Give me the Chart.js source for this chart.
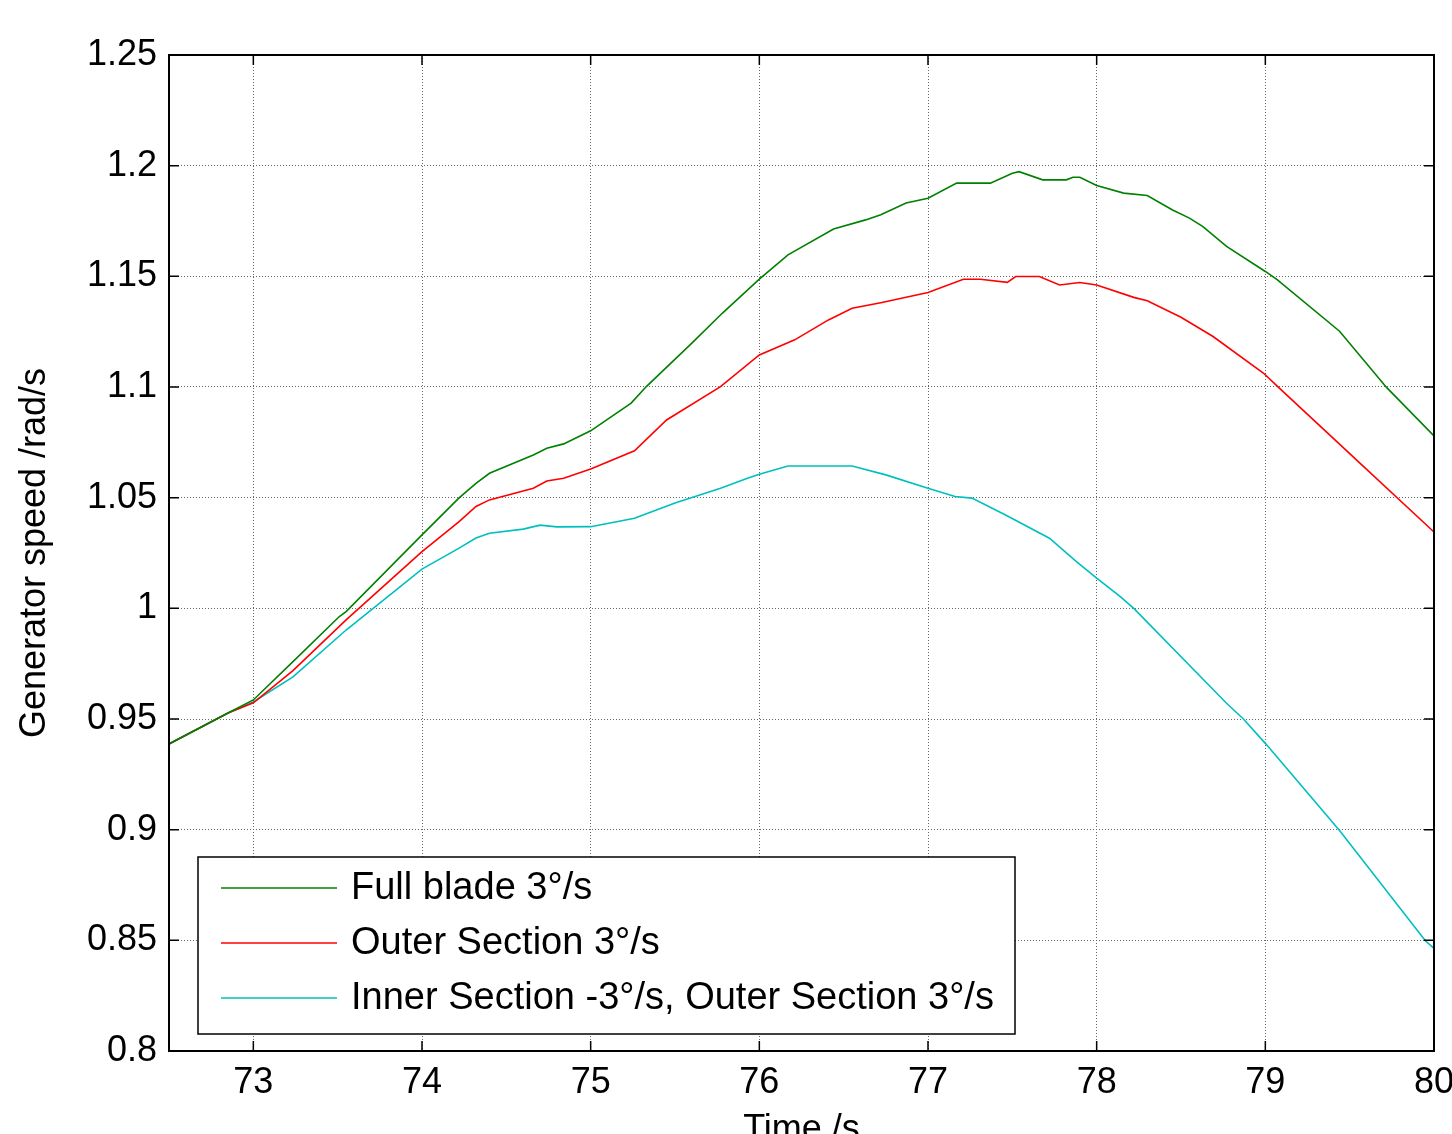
<!DOCTYPE html>
<html>
<head>
<meta charset="utf-8">
<script src="https://cdn.jsdelivr.net/npm/chart.js@4.4.1/dist/chart.umd.min.js"></script>
<style>
  html, body { margin: 0; padding: 0; background: #fff; }
  #wrap { width: 1452px; height: 1134px; }
</style>
</head>
<body>
<div id="wrap"><canvas id="speed-chart" width="1452" height="1134"></canvas></div>
<script>
// --- Data ---
const xTicks = [73, 74, 75, 76, 77, 78, 79, 80];
const yTicks = [0.8, 0.85, 0.9, 0.95, 1.0, 1.05, 1.1, 1.15, 1.2, 1.25];
const yTickLabels = ['0.8', '0.85', '0.9', '0.95', '1', '1.05', '1.1', '1.15', '1.2', '1.25'];

const seriesNames = ['Full blade 3°/s', 'Outer Section 3°/s', 'Inner Section -3°/s, Outer Section 3°/s'];
const seriesColors = ['#008000', '#ff0000', '#00bfbf'];

const fullTime = [72.5, 72.85, 73.0, 73.235, 73.51, 73.55, 74.0, 74.22, 74.32, 74.4, 74.66, 74.74, 74.84, 75.0,
  75.24, 75.33, 75.6, 75.78, 76.0, 76.17, 76.44, 76.63, 76.72, 76.87, 77.0, 77.17, 77.37, 77.5, 77.54, 77.68,
  77.82, 77.86, 77.9, 78.0, 78.16, 78.3, 78.45, 78.55, 78.63, 78.77, 79.0, 79.07, 79.44, 79.72, 80.0];
const fullSpeed = [0.9387, 0.9527, 0.9586, 0.9759, 0.9963, 0.9985, 1.0332, 1.0499, 1.0565, 1.061, 1.0693, 1.0723, 1.0743, 1.0802,
  1.0927, 1.1002, 1.1198, 1.1333, 1.1487, 1.1597, 1.1714, 1.1755, 1.1778, 1.1831, 1.1853, 1.1921, 1.1921, 1.1966, 1.1973, 1.1936,
  1.1936, 1.1948, 1.1948, 1.1910, 1.1876, 1.1865, 1.1800, 1.1763, 1.1725, 1.1635, 1.1522, 1.1485, 1.1252, 1.0997, 1.0779];

const outerTime = [72.5, 72.85, 73.0, 73.235, 73.55, 74.0, 74.22, 74.32, 74.4, 74.66, 74.74, 74.84, 75.0, 75.26,
  75.45, 75.77, 76.0, 76.21, 76.41, 76.55, 76.72, 77.0, 77.21, 77.31, 77.47, 77.52, 77.66, 77.78, 77.9, 78.0,
  78.22, 78.3, 78.5, 78.69, 78.99, 79.08, 79.54, 80.0];
const outerSpeed = [0.9387, 0.9527, 0.9573, 0.9719, 0.9948, 1.0256, 1.0392, 1.046, 1.049, 1.0543, 1.0575, 1.0588, 1.0630, 1.0712,
  1.0851, 1.1002, 1.1145, 1.1213, 1.1303, 1.1356, 1.1381, 1.1427, 1.1487, 1.1487, 1.1473, 1.1499, 1.1499, 1.1461, 1.1472, 1.1461,
  1.1405, 1.1390, 1.1315, 1.1228, 1.1062, 1.0997, 1.0671, 1.0345];

const innerTime = [72.5, 72.85, 73.0, 73.235, 73.55, 74.0, 74.22, 74.32, 74.4, 74.6, 74.7, 74.8, 75.0, 75.26,
  75.5, 75.77, 75.93, 76.0, 76.17, 76.55, 76.75, 77.0, 77.16, 77.26, 77.46, 77.72, 77.88, 78.0, 78.14, 78.22,
  78.77, 78.87, 79.0, 79.44, 79.95, 80.0];
const innerSpeed = [0.9387, 0.9527, 0.9577, 0.969, 0.9902, 1.0177, 1.0272, 1.0318, 1.0339, 1.0358, 1.0376, 1.0368, 1.0369, 1.0407,
  1.0476, 1.0543, 1.0588, 1.0606, 1.0643, 1.0643, 1.0603, 1.0543, 1.0505, 1.0498, 1.0422, 1.0317, 1.0211, 1.0136, 1.0053, 1.0,
  0.9571, 0.95, 0.939, 0.8996, 0.8497, 0.8464];

const FONT = "'Liberation Sans', Arial, Helvetica, sans-serif";

function toPoints(xs, ys) {
  return xs.map((x, i) => ({ x: x, y: ys[i] }));
}

// --- Plugin: MATLAB-style box, inward ticks and legend ---
const matlabFrame = {
  id: 'matlabFrame',
  afterDatasetsDraw(chart) {
    const ctx = chart.ctx;
    const area = chart.chartArea;
    const xs = chart.scales.x;
    const ys = chart.scales.y;
    const tickLen = 10;

    ctx.save();
    ctx.strokeStyle = '#000';
    ctx.lineWidth = 1.5;
    ctx.beginPath();
    xTicks.forEach(t => {
      const px = xs.getPixelForValue(t);
      ctx.moveTo(px, area.bottom); ctx.lineTo(px, area.bottom - tickLen);
      ctx.moveTo(px, area.top); ctx.lineTo(px, area.top + tickLen);
    });
    yTicks.forEach(t => {
      const py = ys.getPixelForValue(t);
      ctx.moveTo(area.left, py); ctx.lineTo(area.left + tickLen, py);
      ctx.moveTo(area.right, py); ctx.lineTo(area.right - tickLen, py);
    });
    ctx.stroke();

    // axes box
    ctx.lineWidth = 2;
    ctx.strokeRect(area.left, area.top, area.right - area.left, area.bottom - area.top);

    // legend
    const boxLeft = area.left + 29;
    const boxBottom = area.bottom - 17;
    const boxW = 817;
    const boxH = 177;
    const boxTop = boxBottom - boxH;
    ctx.fillStyle = '#fff';
    ctx.fillRect(boxLeft, boxTop, boxW, boxH);
    ctx.lineWidth = 1.5;
    ctx.strokeRect(boxLeft, boxTop, boxW, boxH);

    ctx.font = '38px ' + FONT;
    ctx.textBaseline = 'middle';
    ctx.textAlign = 'left';
    seriesNames.forEach((name, i) => {
      const rowY = boxTop + 31 + i * 55;
      ctx.strokeStyle = seriesColors[i];
      ctx.lineWidth = 1.5;
      ctx.beginPath();
      ctx.moveTo(boxLeft + 23, rowY);
      ctx.lineTo(boxLeft + 139, rowY);
      ctx.stroke();
      ctx.fillStyle = '#000';
      ctx.fillText(name, boxLeft + 153, rowY + 1);
    });
    ctx.restore();
  }
};

const ctx = document.getElementById('speed-chart').getContext('2d');
new Chart(ctx, {
  type: 'line',
  data: {
    datasets: [
      { label: seriesNames[0], data: toPoints(fullTime, fullSpeed), borderColor: seriesColors[0] },
      { label: seriesNames[1], data: toPoints(outerTime, outerSpeed), borderColor: seriesColors[1] },
      { label: seriesNames[2], data: toPoints(innerTime, innerSpeed), borderColor: seriesColors[2] }
    ]
  },
  options: {
    responsive: false,
    animation: false,
    layout: { padding: { top: 55, right: 18, left: 0, bottom: 0 } },
    elements: {
      line: { borderWidth: 1.6, tension: 0, fill: false },
      point: { radius: 0 }
    },
    plugins: {
      legend: { display: false },
      tooltip: { enabled: false }
    },
    scales: {
      x: {
        type: 'linear',
        min: 72.5,
        max: 80,
        afterBuildTicks: (scale) => { scale.ticks = xTicks.map(v => ({ value: v })); },
        afterFit: (scale) => { scale.height = 83; scale.paddingLeft = 0; scale.paddingRight = 0; },
        ticks: {
          color: '#000',
          font: { family: FONT, size: 36 },
          padding: 10,
          maxRotation: 0,
          autoSkip: false,
          callback: (v) => String(v)
        },
        grid: { color: '#666', lineWidth: 1, drawTicks: false },
        border: { display: false, dash: [1, 2] },
        title: {
          display: true,
          text: 'Time /s',
          color: '#000',
          font: { family: FONT, size: 36 },
          padding: { top: 0, bottom: -18 }
        }
      },
      y: {
        type: 'linear',
        min: 0.8,
        max: 1.25,
        afterBuildTicks: (scale) => { scale.ticks = yTicks.map(v => ({ value: v })); },
        afterFit: (scale) => { scale.width = 169; scale.paddingTop = 0; scale.paddingBottom = 0; },
        ticks: {
          color: '#000',
          font: { family: FONT, size: 36 },
          padding: 12,
          autoSkip: false,
          callback: (v) => {
            const i = yTicks.findIndex(t => Math.abs(t - v) < 1e-9);
            return i >= 0 ? yTickLabels[i] : '';
          }
        },
        grid: { color: '#666', lineWidth: 1, drawTicks: false },
        border: { display: false, dash: [1, 2] },
        title: {
          display: true,
          text: 'Generator speed /rad/s',
          color: '#000',
          font: { family: FONT, size: 36 },
          padding: { top: 13, bottom: 0 }
        }
      }
    }
  },
  plugins: [matlabFrame]
});
</script>
</body>
</html>
